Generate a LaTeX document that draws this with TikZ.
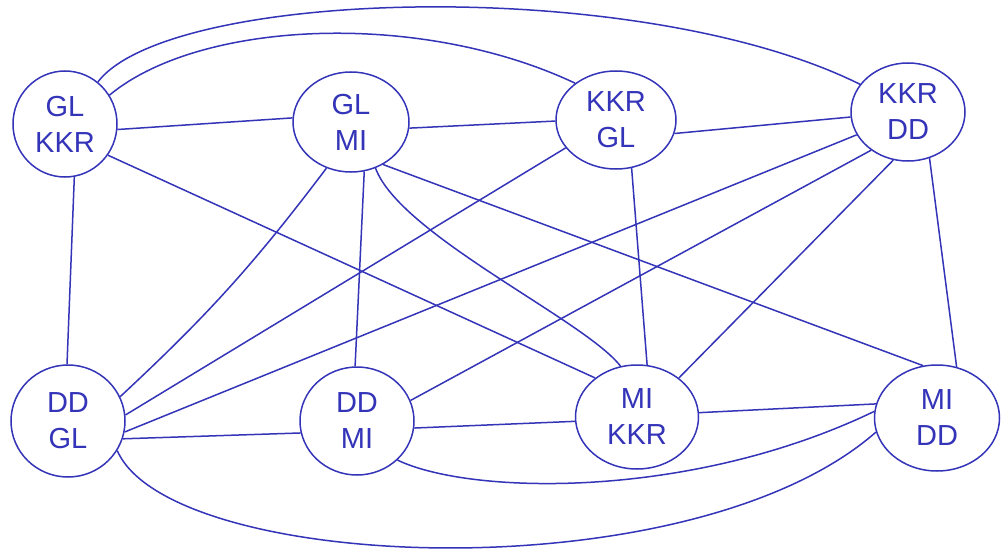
\documentclass[tikz,border=0pt]{standalone}
\usepackage{fontspec}
\setmainfont{Liberation Sans}
\usetikzlibrary{shapes.geometric}
\definecolor{ink}{RGB}{52,52,185}
\begin{document}
\begin{tikzpicture}[x=1pt,y=-1pt,
  blob/.style={ellipse, draw=ink, line width=1.5pt, inner sep=0pt, align=center,
    text=ink, font=\fontsize{29}{36}\selectfont},
  link/.style={draw=ink, line width=1.5pt}]
\fill[white] (0,0) rectangle (1007,551);
\useasboundingbox (0,0) rectangle (1007,551);
% nodes
\node[blob, minimum width=104pt, minimum height=106pt] (A) at (65,124) {GL\\KKR};
\node[blob, minimum width=116pt, minimum height=100pt] (B) at (351,122) {GL\\MI};
\node[blob, minimum width=120pt, minimum height=98pt] (C) at (616,120) {KKR\\GL};
\node[blob, minimum width=114pt, minimum height=98pt] (D) at (908,112) {KKR\\DD};
\node[blob, minimum width=114pt, minimum height=112pt] (E) at (68,421) {DD\\GL};
\node[blob, minimum width=114pt, minimum height=108pt] (F) at (357,421) {DD\\MI};
\node[blob, minimum width=123pt, minimum height=104pt] (G) at (637,417) {MI\\KKR};
\node[blob, minimum width=125pt, minimum height=106pt] (H) at (937,418) {MI\\DD};
% curved connectors
\draw[link] (A.52) .. controls (170,-12) and (640,-25) .. (D.150);
\draw[link] (A.33) .. controls (200,20) and (420,10) .. (C.138);
\draw[link] (B.-62) .. controls (400,235) and (585,320) .. (G.108);
\draw[link] (F.-44) .. controls (470,495) and (690,500) .. (H.174);
\draw[link] (E.-31) .. controls (170,572) and (690,595) .. (H.193);
% straight connectors
\draw[link] (A.-6) -- (B.176);
\draw[link] (A.-36) -- (G.137);
\draw[link] (A.-80) -- (E.91);
\draw[link] (B.-6) -- (C.181);
\draw[link] (B.-118) to[bend left=5] (E.25);
\draw[link] (B.-75) -- (F.92);
\draw[link] (B.-53) -- (H.105);
\draw[link] (C.-13) -- (D.185);
\draw[link] (C.-72) -- (G.79);
\draw[link] (C.-151) -- (E.6);
\draw[link] (D.-156) -- (E.-11);
\draw[link] (D.-134) -- (F.21);
\draw[link] (D.-107) -- (G.43);
\draw[link] (D.-65) -- (H.69);
\draw[link] (E.-18) -- (F.192);
\draw[link] (F.-7) -- (G.184);
\draw[link] (G.4) -- (H.167);
\end{tikzpicture}
\end{document}
